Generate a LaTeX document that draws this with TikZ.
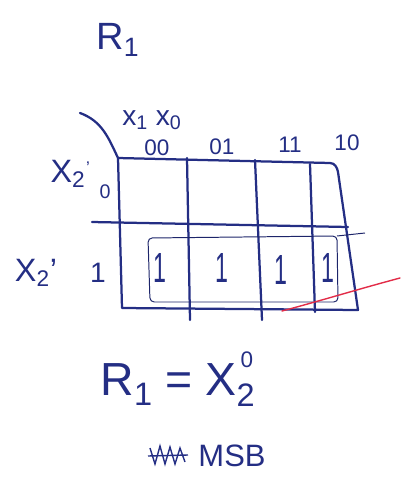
\documentclass[tikz,border=0pt]{standalone}
\usepackage{fontspec}
\setmainfont{Liberation Sans}
\usepackage{tikz}
\definecolor{ink}{RGB}{36,46,132}
\definecolor{redink}{RGB}{226,44,72}

\begin{document}
\begin{tikzpicture}[x=0.025cm,y=-0.025cm,
  grid/.style={draw=ink,line width=1.6pt,line cap=round,line join=round},
  loop/.style={draw=ink!80!black,line width=0.7pt,rounded corners=3pt},
  hand/.style={text=ink,inner sep=0pt,font=\fontsize{#1}{#1}\selectfont},
  hand/.default=15,
  cell/.style={hand=30,xscale=0.55,transform shape}
]
  \useasboundingbox (0,0) rectangle (402,487);
  % title
  \node[hand=27] (title) at (118,40) {R\textsubscript{1}};
  % outer frame of the map
  \draw[grid] (118,158) -- (330,163) to[out=0,in=100] (338,172)
    -- (358,310) -- (122,308) -- cycle;
  \draw[grid] (187,158) -- (190,320);
  \draw[grid] (255,160) -- (262,320);
  \draw[grid] (310,164) -- (315,312);
  \draw[grid] (92,222) -- (348,227);
  % corner slash
  \draw[grid] (80,113) to[out=-20,in=115] (118,158);
  % variable names
  \node[hand=20] (cvar) at (152,120) {x\textsubscript{1} x\textsubscript{0}};
  \node[hand=23] (rvar0) at (68,174) {X\textsubscript{2}};
  \node[hand=12] (rvar0t) at (88,168) {'};
  \node[hand=23] (rvar1) at (36,273) {X\textsubscript{2}'};
  % column and row labels
  \node[hand=16] (c00) at (157,148) {00};
  \node[hand=16] (c01) at (222,147) {01};
  \node[hand=16] (c11) at (290,145) {11};
  \node[hand=16] (c10) at (347,143) {10};
  \node[hand=14] (r0) at (105,192) {0};
  \node[hand=20] (r1) at (98,273) {1};
  % cell values
  \node[cell] (m4) at (160,268) {1};
  \node[cell] (m5) at (222,268) {1};
  \node[cell] (m7) at (281,270) {1};
  \node[cell] (m6) at (328,268) {1};
  % group of ones
  \draw[loop] (148,238) -- (337,236) -- (338,302) -- (150,302) -- cycle;
  \draw[loop] (337,236) -- (365,233);
  % red stroke
  \draw[redink,line width=1pt,line cap=round] (282,311) to[out=15,in=195] (400,278);
  % result
  \node[hand=33] (res) at (178,385) {R\textsubscript{1} = X\textsubscript{2}};
  \node[hand=16] (sup) at (247,360) {0};
  \node[hand=22] (msb) at (232,456) {MSB};
  \draw[ink,line width=1pt] (150,448) -- (155,464) -- (160,446) -- (165,464)
    -- (170,447) -- (175,464) -- (180,448) -- (185,462);
  \draw[ink,line width=1pt] (148,456) -- (188,455);
\end{tikzpicture}
\end{document}
